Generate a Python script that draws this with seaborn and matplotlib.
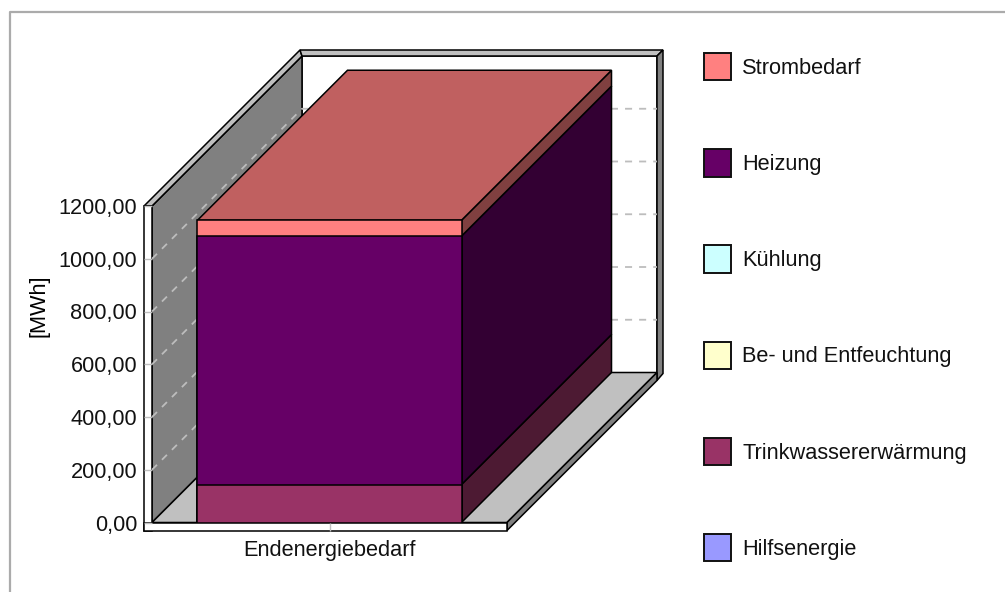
import numpy as np
import pandas as pd
import matplotlib
matplotlib.use('Agg')
import matplotlib.pyplot as plt
from matplotlib.patches import Patch, Polygon
import seaborn as sns

category = 'Endenergiebedarf'
y_ticks = [0, 200, 400, 600, 800, 1000, 1200]
y_tick_labels = ['0,00', '200,00', '400,00', '600,00', '800,00', '1000,00', '1200,00']

# bottom to top of the stack
series = ['Hilfsenergie', 'Trinkwassererwärmung', 'Be- und Entfeuchtung', 'Kühlung', 'Heizung', 'Strombedarf']
values = [0, 144, 0, 0, 942, 60]
front_colors = ['#9999FF', '#993366', '#FFFFCC', '#CCFFFF', '#660066', '#FF8080']
side_colors = ['#4D4D80', '#4D1A33', '#808066', '#668080', '#330033', '#804040']
top_color = '#C06060'

W, H = 1005, 592
FONT = 15.7
plt.rcParams['font.family'] = ['Liberation Sans', 'DejaVu Sans']

fig = plt.figure(figsize=(W / 100, H / 100), dpi=100, facecolor='white')

# plot area in pixels, 3D depth is 150 px back and 150 px up
left, right, bottom, top = 152, 507, 522.5, 206
depth = 150
strip = 8
back_strip = 6

# frame of the fake 3D chart, in pixel coordinates
bg = fig.add_axes([0, 0, 1, 1], zorder=0)
bg.set_xlim(0, W)
bg.set_ylim(H, 0)
bg.axis('off')

bg.plot([10, 10, W], [H, 12, 12], color='#ababab', lw=1.6)


def face(points, color, lw=1.1):
    bg.add_patch(Polygon(points, closed=True, facecolor=color, edgecolor='black', lw=lw, joinstyle='miter'))


bl, tl = (left, bottom), (left, top)
bbl = (left + depth, bottom - depth)
btl = (left + depth, top - depth)
bbr = (right + depth, bottom - depth)
btr = (right + depth, top - depth)
fbr = (right, bottom)
out_tl = (btl[0] - 2, btl[1] - back_strip)
out_tr = (btr[0] + back_strip, btr[1] - back_strip)

face([bbl, btl, btr, bbr], 'white')                      # back wall
face([bl, tl, btl, bbl], '#808080')                      # left wall
face([bl, fbr, bbr, bbl], '#C0C0C0')                     # floor
face([(left - strip, top), tl, btl, out_tl], '#C0C0C0')
face([out_tl, btl, btr, out_tr], '#C0C0C0')
face([btr, out_tr, (out_tr[0], bbr[1] + 1), (bbr[0], bbr[1] + strip)], '#808080')
face([fbr, bbr, (bbr[0], bbr[1] + strip), (fbr[0], fbr[1] + strip)], '#808080')
face([(left - strip, top), tl, bl, (left, bottom + strip), (left - strip, bottom + strip)], 'white')
face([(left - strip, bottom), fbr, (fbr[0], fbr[1] + strip), (left - strip, bottom + strip)], 'white')

# data axes, transparent on top of the frame
ax = fig.add_axes([left / W, 1 - bottom / H, (right - left) / W, (bottom - top) / H], zorder=1)
ax.patch.set_alpha(0)

cum = np.cumsum(values)
bar_width = 264 / (right - left)

# stacked bars: tallest first so each shorter one paints over it
df = pd.DataFrame({'category': category, 'series': series, 'cum': cum})
for i in range(len(series) - 1, -1, -1):
    if values[i] == 0:
        continue
    sns.barplot(data=df.iloc[[i]], x='category', y='cum', color=front_colors[i], saturation=1,
                width=bar_width, edgecolor='black', linewidth=1.1, ax=ax, zorder=4)

ax.set_xlim(-0.5, 0.5)
ax.set_ylim(0, 1200)
dx = depth / (right - left)
dy = depth * 1200 / (bottom - top)

# dashed grid on the left wall and back wall
for t in y_ticks[1:-1]:
    ax.plot([-0.5, -0.5 + dx, 0.5 + dx], [t, t + dy, t + dy], color='#BDBDBD', lw=1.3, ls=(0, (3.9, 3.9)),
            clip_on=False, zorder=2)

x0, x1 = -bar_width / 2, bar_width / 2
prev = 0
for i in range(len(series)):
    if values[i] == 0:
        continue
    ax.add_patch(Polygon([(x1, prev), (x1 + dx, prev + dy), (x1 + dx, cum[i] + dy), (x1, cum[i])],
                         facecolor=side_colors[i], edgecolor='black', lw=1.1, clip_on=False, zorder=3))
    prev = cum[i]
ax.add_patch(Polygon([(x0, cum[-1]), (x1, cum[-1]), (x1 + dx, cum[-1] + dy), (x0 + dx, cum[-1] + dy)],
                     facecolor=top_color, edgecolor='black', lw=1.1, clip_on=False, zorder=3))

sns.despine(ax=ax, left=True, bottom=True)
ax.set_yticks(y_ticks)
ax.set_yticklabels(y_tick_labels)
ax.set_xlabel('')
ax.set_ylabel('[MWh]', fontsize=FONT, color='black')
ax.yaxis.set_label_coords(-0.288, 0.686)
ax.tick_params(axis='both', length=5.8, width=1, color='#C0C0C0', labelsize=FONT, labelcolor='black')
ax.tick_params(axis='y', pad=5)
ax.tick_params(axis='x', pad=7)
for t in ax.get_xticklabels() + ax.get_yticklabels():
    t.set_color('#111111')

handles = [Patch(facecolor=front_colors[i], edgecolor='#111111', lw=1.4) for i in range(len(series) - 1, -1, -1)]
labels = series[::-1]
fig.legend(handles, labels, loc='upper left', bbox_to_anchor=(703.5 / W, 1 - 53 / H), frameon=False, borderpad=0,
           borderaxespad=0, handlelength=20 / FONT, handleheight=1.55, handletextpad=0.5,
           labelspacing=3.16, fontsize=FONT, labelcolor='#111111')

fig.savefig('out.png', dpi=100)
